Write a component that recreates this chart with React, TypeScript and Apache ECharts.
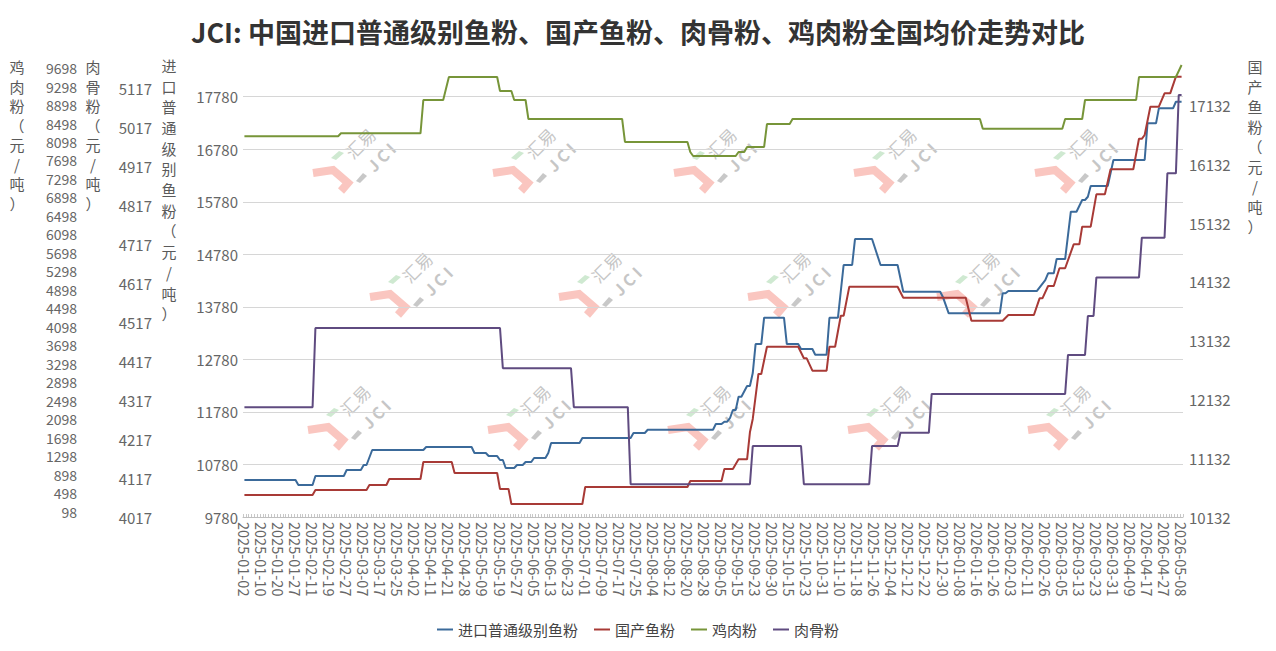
import React, { useEffect, useRef } from "react";
import * as echarts from "echarts";

const FONT = '"Noto Sans CJK SC", "Noto Sans", sans-serif';

const TITLE = "JCI: 中国进口普通级别鱼粉、国产鱼粉、肉骨粉、鸡肉粉全国均价走势对比";

const SERIES_NAMES = ["进口普通级别鱼粉", "国产鱼粉", "鸡肉粉", "肉骨粉"];
const SERIES_COLORS = ["#3b6a9a", "#a83a36", "#779539", "#5f4b80"];

const AXIS_NAMES = ["鸡肉粉（元/吨）", "肉骨粉（元/吨）", "进口普通级别鱼粉（元/吨）", "国产鱼粉（元/吨）"];

// x categories: Chinese working days between these two dates
const FIRST_DAY = "2025-01-02";
const LAST_DAY = "2026-05-08";
const HOLIDAYS = [
  "2025-01-01", "2025-01-28", "2025-01-29", "2025-01-30", "2025-01-31", "2025-02-03", "2025-02-04",
  "2025-04-04", "2025-05-01", "2025-05-02", "2025-05-05", "2025-06-02",
  "2025-10-01", "2025-10-02", "2025-10-03", "2025-10-06", "2025-10-07", "2025-10-08",
  "2026-01-01", "2026-01-02", "2026-02-16", "2026-02-17", "2026-02-18", "2026-02-19", "2026-02-20",
  "2026-02-23", "2026-04-06", "2026-05-01", "2026-05-04", "2026-05-05",
];
const MAKEUP_WORKDAYS = [
  "2025-01-26", "2025-02-08", "2025-04-27", "2025-09-28", "2025-10-11",
  "2026-01-04", "2026-02-14", "2026-02-28",
];

// y axes: [min, max, interval]
const IMPORT_AXIS = [9780, 18478, 1000];
const DOMESTIC_AXIS = [10132, 17910, 1000];
const MEATBONE_AXIS = [4017, 5190, 100];
const CHICKEN_AXIS = [98, 9992, 400];

// price levels held between category indexes: [fromIndex, toIndex, price]
const IMPORT_SEGS = [
  [0, 18, 10484], [19, 24, 10389], [25, 35, 10560], [36, 41, 10674], [42, 43, 10770], [45, 63, 11055],
  [64, 80, 11112], [81, 85, 10998], [86, 89, 10940], [90, 91, 10865], [92, 95, 10713], [96, 98, 10770],
  [99, 101, 10827], [102, 106, 10903], [107, 107, 10998], [108, 118, 11188], [119, 136, 11283],
  [137, 141, 11379], [142, 165, 11440], [166, 168, 11550], [169, 170, 11594], [171, 171, 11664],
  [172, 173, 11816], [174, 175, 12069], [177, 178, 12273], [179, 179, 12520], [180, 182, 13072],
  [183, 190, 13573], [191, 195, 13072], [196, 200, 12977], [201, 205, 12869], [206, 209, 13573],
  [211, 214, 14576], [215, 221, 15070], [224, 230, 14576], [232, 245, 14067], [246, 246, 13961],
  [248, 266, 13656], [267, 268, 14037], [269, 279, 14081], [282, 282, 14290], [283, 285, 14418],
  [286, 289, 14690], [291, 293, 15590], [295, 296, 15813], [297, 297, 15875], [298, 304, 16079],
  [306, 317, 16574], [318, 321, 17272], [322, 327, 17558], [328, 330, 17683],
];
const DOMESTIC_SEGS = [
  [0, 24, 10506], [25, 43, 10592], [44, 50, 10677], [51, 62, 10779], [63, 73, 11068], [74, 89, 10881],
  [90, 93, 10609], [94, 119, 10353], [120, 156, 10643], [157, 168, 10745], [169, 172, 10949],
  [174, 177, 11114], [178, 178, 11574], [179, 179, 11800], [181, 182, 12566], [184, 195, 13030],
  [197, 198, 12833], [200, 205, 12622], [206, 208, 13030], [210, 211, 13558], [213, 230, 14052],
  [232, 254, 13864], [256, 267, 13473], [269, 278, 13570], [280, 281, 13854], [283, 285, 14064],
  [287, 289, 14365], [292, 294, 14773], [295, 298, 15073], [300, 303, 15624], [305, 313, 16050],
  [315, 316, 16569], [317, 317, 16634], [319, 322, 17115], [324, 326, 17343], [328, 330, 17626],
];
const CHICKEN_SEGS = [
  [0, 33, 8340], [34, 62, 8405], [63, 70, 9126], [72, 89, 9624], [90, 94, 9321], [95, 99, 9126],
  [100, 133, 8715], [134, 156, 8217], [157, 157, 8000], [158, 173, 7914], [174, 176, 8000],
  [177, 183, 8109], [184, 192, 8606], [193, 259, 8715], [260, 288, 8505], [289, 295, 8715],
  [296, 314, 9126], [315, 328, 9624], [330, 330, 9884],
];
const MEATBONE_SEGS = [
  [0, 24, 4299], [25, 90, 4502], [91, 115, 4399], [116, 135, 4299], [136, 178, 4101], [179, 196, 4199],
  [197, 220, 4101], [221, 230, 4199], [231, 241, 4233], [242, 289, 4333], [290, 296, 4433],
  [297, 299, 4533], [300, 315, 4632], [316, 324, 4734], [325, 328, 4899], [329, 330, 5100],
];

function buildWorkingDays(): string[] {
  const hol = new Set(HOLIDAYS);
  const extra = new Set(MAKEUP_WORKDAYS);
  const [y0, m0, d0] = FIRST_DAY.split("-").map(Number);
  const [y1, m1, d1] = LAST_DAY.split("-").map(Number);
  let t = Date.UTC(y0, m0 - 1, d0);
  const end = Date.UTC(y1, m1 - 1, d1);
  const out: string[] = [];
  while (t <= end) {
    const d = new Date(t);
    const s = d.toISOString().slice(0, 10);
    const wd = d.getUTCDay();
    if (extra.has(s) || (wd !== 0 && wd !== 6 && !hol.has(s))) out.push(s);
    t += 86400000;
  }
  return out;
}

function segPoints(segs: number[][]): number[][] {
  const pts: number[][] = [];
  segs.forEach(([a, b, v]) => {
    pts.push([a, v]);
    if (b !== a) pts.push([b, v]);
  });
  return pts;
}

const LABEL_COLOR = "#666";

function yAxis(range: number[], extra: any) {
  const [min, max, interval] = range;
  return {
    type: "value",
    min,
    max,
    interval,
    axisLine: { show: false },
    axisTick: { show: false },
    splitLine: { show: false },
    ...extra,
    axisLabel: {
      color: LABEL_COLOR,
      fontSize: 15,
      fontFamily: FONT,
      margin: 5,
      showMaxLabel: false,
      formatter: (v: number) => String(v),
      ...(extra.axisLabel || {}),
    },
  };
}

const WATERMARKS = [
  [360, 143], [540, 143], [721, 143], [901, 143], [1082, 143],
  [417, 267], [606, 267], [795, 267], [984, 267],
  [355, 400], [535, 400], [715, 400], [895, 400], [1075, 400],
];

function watermark(cx: number, cy: number) {
  return {
    type: "group",
    x: cx,
    y: cy,
    silent: true,
    z: 0,
    children: [
      {
        type: "polyline",
        shape: { points: [[-47, 30], [-27, 27], [-12, 40], [-19, 48]] },
        style: { stroke: "#fac6c0", lineWidth: 8, fill: null, lineJoin: "miter" },
      },
      {
        type: "polygon",
        shape: { points: [[-29, 15], [-21, 8], [-16, 10], [-24, 17]] },
        style: { fill: "#cfe9d1" },
      },
      {
        type: "polygon",
        shape: { points: [[-4, 38], [3, 30], [7, 33], [0, 40]] },
        style: { fill: "#c8c8c8" },
      },
      {
        type: "text",
        x: 0,
        y: 0,
        rotation: Math.PI / 4,
        style: { text: "汇易", fill: "#c6c6c6", fontSize: 17, fontFamily: FONT, align: "center", verticalAlign: "middle" },
      },
      {
        type: "text",
        x: 21,
        y: 14,
        rotation: Math.PI / 4,
        style: { text: "J C I", fill: "#c6c6c6", fontSize: 16, fontWeight: "bold", fontFamily: FONT, align: "center", verticalAlign: "middle" },
      },
    ],
  };
}

function axisName(text: string, x: number, y: number, lh: number) {
  return {
    type: "text",
    x,
    y,
    silent: true,
    style: {
      text: Array.from(text).join("\n"),
      fill: "#5a5a5a",
      fontSize: 15,
      fontFamily: FONT,
      align: "center",
      verticalAlign: "top",
      lineHeight: lh,
    },
  };
}

export default function App() {
  const ref = useRef<HTMLDivElement>(null);
  useEffect(() => {
    if (!ref.current) return;
    const chart = echarts.init(ref.current, null, { renderer: "svg" });
    const days = buildWorkingDays();
    const segsList = [IMPORT_SEGS, DOMESTIC_SEGS, CHICKEN_SEGS, MEATBONE_SEGS];
    const axisIdx = [0, 3, 2, 1];
    const option: any = {
      animation: false,
      backgroundColor: "#fff",
      textStyle: { fontFamily: FONT },
      title: {
        text: TITLE,
        left: "center",
        top: 13,
        textStyle: { fontSize: 27, fontWeight: "bold", color: "#333", fontFamily: FONT },
      },
      legend: {
        data: SERIES_NAMES,
        left: "center",
        top: 617,
        icon: "rect",
        itemWidth: 16,
        itemHeight: 2,
        itemGap: 16,
        textStyle: { fontSize: 15, color: "#444", fontFamily: FONT },
      },
      grid: { left: 243, right: 93, top: 60, bottom: 134 },
      xAxis: {
        type: "category",
        data: days,
        boundaryGap: true,
        axisLine: { lineStyle: { color: "#bfbfbf" } },
        axisTick: { show: true, interval: 0, inside: true, length: 3, lineStyle: { color: "#c8c8c8" } },
        axisLabel: { interval: 5, rotate: -90, color: LABEL_COLOR, fontSize: 14.5, fontFamily: FONT, margin: 5 },
      },
      yAxis: [
        yAxis(IMPORT_AXIS, {
          position: "left",
          offset: 0,
          splitLine: { show: true, showMaxLine: false, lineStyle: { color: "#d6d6d6", width: 1 } },
        }),
        yAxis(MEATBONE_AXIS, { position: "left", offset: 86 }),
        yAxis(CHICKEN_AXIS, {
          position: "left",
          offset: 161,
          axisLabel: { fontSize: 14, verticalAlign: "bottom", lineHeight: 11 },
        }),
        yAxis(DOMESTIC_AXIS, { position: "right", offset: 0, axisLabel: { margin: 6 } }),
      ],
      graphic: [
        ...WATERMARKS.map(([x, y]) => watermark(x, y)),
        axisName(AXIS_NAMES[0], 17, 57, 19.5),
        axisName(AXIS_NAMES[1], 93, 57, 19.5),
        axisName(AXIS_NAMES[2], 169, 55, 20.7),
        axisName(AXIS_NAMES[3], 1255, 56, 20.1),
      ],
      series: SERIES_NAMES.map((name, k) => ({
        name,
        type: "line",
        yAxisIndex: axisIdx[k],
        data: segPoints(segsList[k]),
        symbol: "none",
        showSymbol: false,
        lineStyle: { width: 2, color: SERIES_COLORS[k] },
        itemStyle: { color: SERIES_COLORS[k] },
        z: 3,
      })),
    };
    chart.setOption(option);
    return () => chart.dispose();
  }, []);
  return (
    <div
      ref={ref}
      style={{ position: "fixed", left: 0, top: 0, width: 1276, height: 651, background: "#fff" }}
    />
  );
}
